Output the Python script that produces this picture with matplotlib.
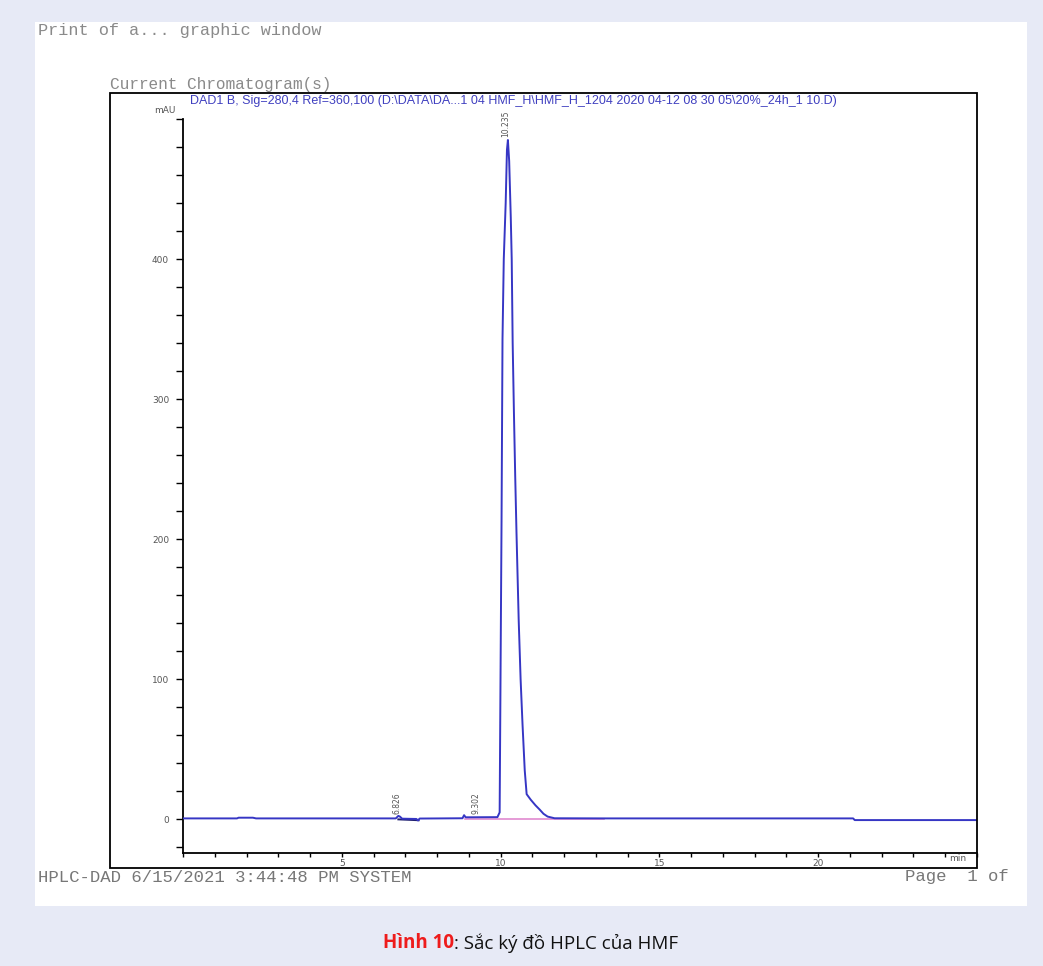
import matplotlib
matplotlib.use("Agg")
import matplotlib.pyplot as plt
from matplotlib.patches import Rectangle
from matplotlib.ticker import MultipleLocator

# chromatogram trace (min, mAU)
time = [0.0, 1.70, 1.75, 2.20, 2.30, 6.70, 6.78, 6.83, 6.90, 7.35, 7.40, 7.45,
        8.80, 8.85, 8.90, 9.00, 9.90, 9.97, 10.00, 10.03, 10.06, 10.10, 10.16,
        10.20, 10.23, 10.27, 10.32, 10.35, 10.38, 10.42, 10.46, 10.50, 10.57,
        10.63, 10.69, 10.76, 10.82, 10.95, 11.10, 11.23, 11.35, 11.48, 11.70,
        13.30, 21.10, 21.15, 25.0]
signal = [0.7, 0.7, 1.2, 1.2, 0.7, 0.7, 2.5, 2.0, 0.5, 0.3, -0.8, 0.6,
          0.8, 3.0, 1.5, 1.5, 1.6, 5, 110, 214, 343, 400, 440,
          478, 485, 470, 430, 400, 340, 290, 245, 205, 142,
          100, 68, 35, 18, 14, 10, 7, 4, 2, 0.8,
          0.7, 0.7, -0.5, -0.5]

peak_rt = [6.826, 9.302, 10.235]
peak_labels = ["6.826", "9.302", "10.235"]
peak_label_y = [4, 4, 487]

# integration baselines
main_base_t = [8.87, 13.27]
main_base_y = [0.3, 0.3]
small_base_t = [6.78, 7.42]
small_base_y = [0.0, -0.6]

yticks = [0, 100, 200, 300, 400]
xticks = [5, 10, 15, 20]

title_txt = ("DAD1 B, Sig=280,4 Ref=360,100 (D:\\DATA\\DA...1 04 HMF_H\\HMF_H_1204 "
             "2020 04-12 08 30 05\\20%_24h_1 10.D)")

W, H = 1043, 966


def fx(x):
    return x / W


def fy(y):
    return 1 - y / H


fig = plt.figure(figsize=(W / 100, H / 100), dpi=100)
fig.patch.set_facecolor("#e7eaf6")

# white panel and the outer chromatogram frame
fig.add_artist(Rectangle((fx(35), fy(906)), fx(1027) - fx(35), fy(22) - fy(906),
                         transform=fig.transFigure, facecolor="white",
                         edgecolor="none", zorder=0))
fig.add_artist(Rectangle((fx(110), fy(868)), fx(977) - fx(110), fy(93) - fy(868),
                         transform=fig.transFigure, facecolor="none",
                         edgecolor="black", linewidth=1.3, zorder=1))

ax = fig.add_axes([fx(183), fy(853), fx(977) - fx(183), fy(119) - fy(853)])
ax.patch.set_alpha(0)
ax.plot(time, signal, color="#3636c4", linewidth=1.4, zorder=3)
ax.plot(main_base_t, main_base_y, color="#e08ad0", linewidth=1.2, zorder=2)
ax.plot(small_base_t, small_base_y, color="#202070", linewidth=1.4, zorder=2)

for rt, lab, ly in zip(peak_rt, peak_labels, peak_label_y):
    ax.text(rt - 0.08, ly, lab, rotation=90, ha="center", va="bottom",
            fontsize=5.5, color="#555555")

ax.set_xlim(0, 25)
ax.set_ylim(-24, 500)
ax.spines["top"].set_visible(False)
ax.spines["right"].set_visible(False)
for s in ("left", "bottom"):
    ax.spines[s].set_linewidth(1.3)

ax.set_yticks(yticks)
ax.yaxis.set_minor_locator(MultipleLocator(20))
ax.set_xticks(xticks)
ax.xaxis.set_minor_locator(MultipleLocator(1))
ax.tick_params(axis="y", which="both", direction="out", length=5, width=1,
               labelsize=6.5, labelcolor="#555555", pad=5)
ax.tick_params(axis="x", which="both", direction="out", length=3, width=1,
               labelsize=6.5, labelcolor="#555555", pad=1)
ax.text(-0.25, 503, "mAU", ha="right", va="bottom", fontsize=6.5, color="#555555")
ax.text(24.4, -25, "min", ha="center", va="top", fontsize=6.5, color="#555555")

mono = "Liberation Mono"
fig.text(fx(38), fy(30), "Print of a... graphic window", family=mono,
         fontsize=12.2, color="#8a8a8a", va="center")
fig.text(fx(110), fy(84), "Current Chromatogram(s)", family=mono,
         fontsize=11.6, color="#8a8a8a", va="center")
fig.text(fx(190), fy(95), title_txt, family="Liberation Sans",
         fontsize=9.0, color="#4040c0", va="top")
fig.text(fx(38), fy(877), "HPLC-DAD 6/15/2021 3:44:48 PM SYSTEM", family=mono,
         fontsize=12.4, color="#777777", va="center")
fig.text(fx(905), fy(877), "Page  1 of", family=mono,
         fontsize=12.4, color="#777777", va="center")

# caption: bold red "Hinh 10" followed by black text, centred
cap_y = fy(943)
t1 = fig.text(0, cap_y, "Hình 10", family="Open Sans", fontweight="bold",
              fontsize=13.5, color="#ee1c1c", va="center")
t2 = fig.text(0, cap_y, ": Sắc ký đồ HPLC của HMF", family="Open Sans",
              fontsize=13.5, color="#111111", va="center")
fig.canvas.draw()
r = fig.canvas.get_renderer()
w1 = t1.get_window_extent(r).width / W
w2 = t2.get_window_extent(r).width / W
x0 = fx(531) - (w1 + w2) / 2
t1.set_x(x0)
t2.set_x(x0 + w1)

fig.savefig("out.png", dpi=100)
